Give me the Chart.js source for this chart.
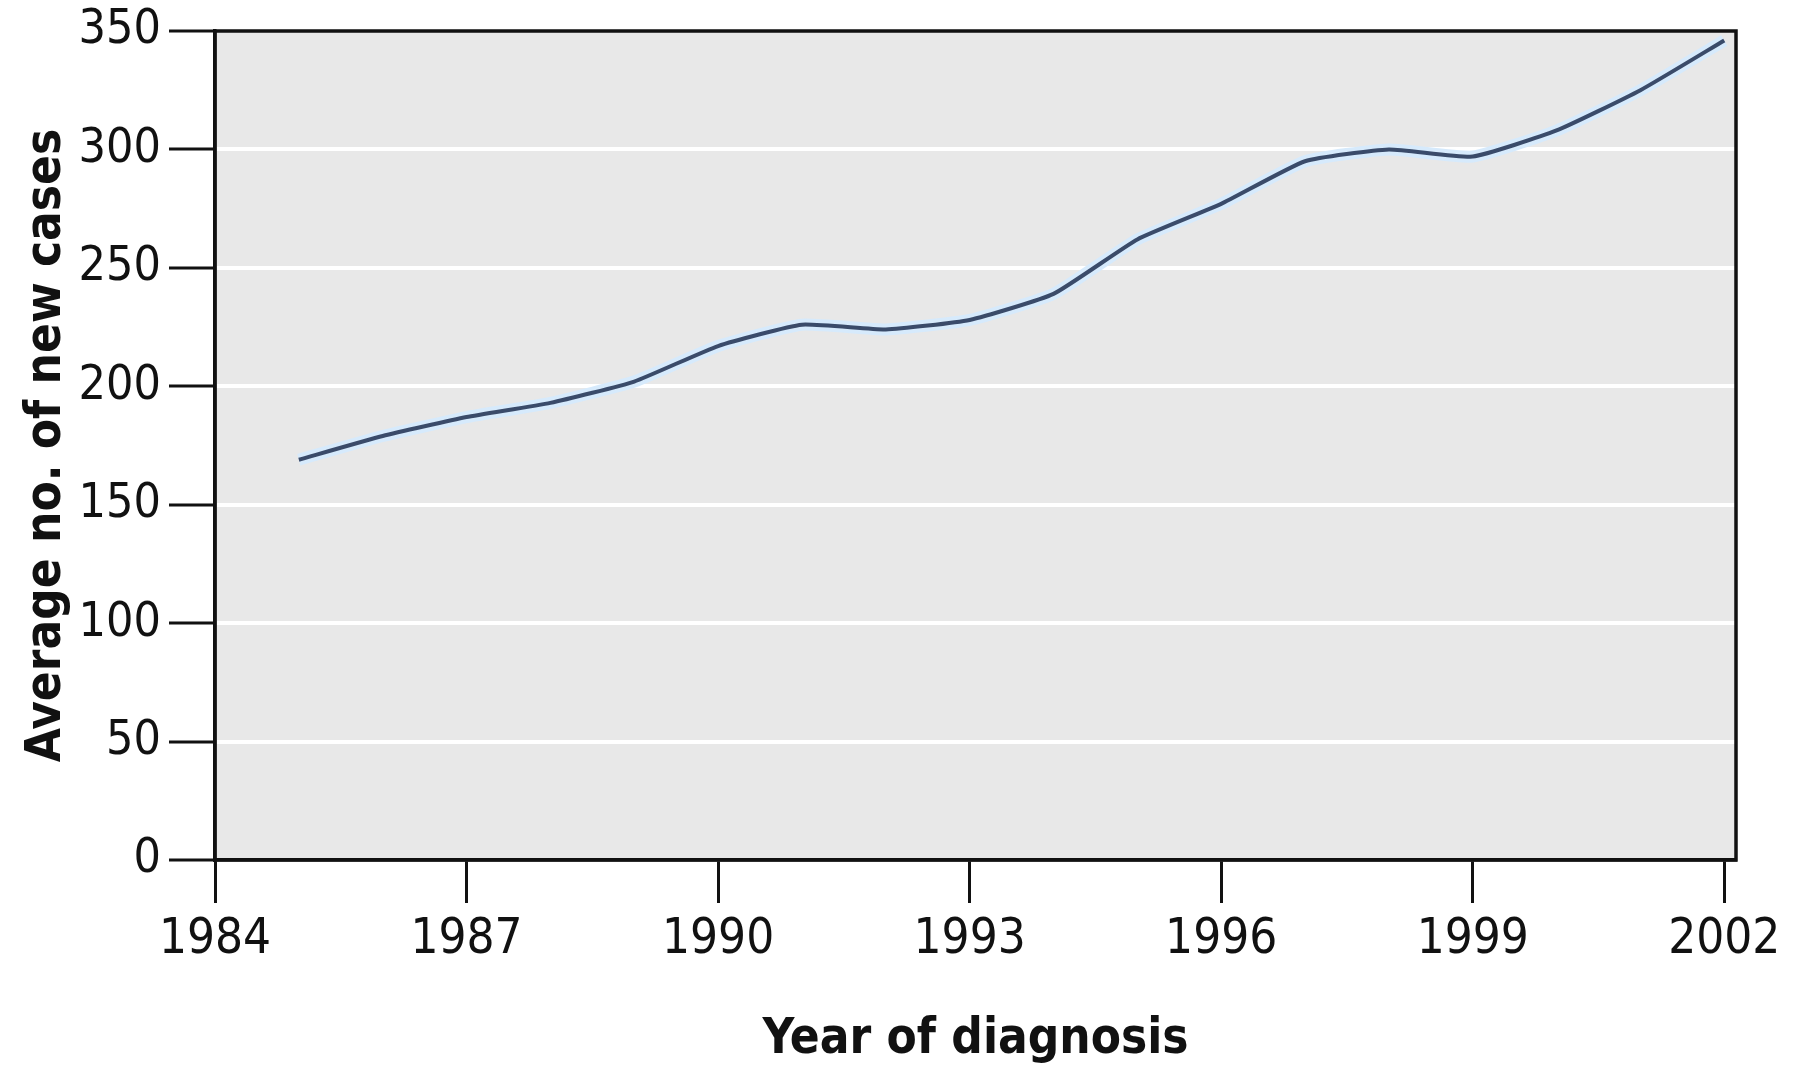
<!doctype html>
<html>
<head>
    <meta charset="utf-8">
    <title>Average no. of new cases</title>
    <script src="https://cdn.jsdelivr.net/npm/chart.js@4.4.1/dist/chart.umd.min.js"></script>
    <style>
    body { margin: 0; background: #fff; }
    </style>
</head>
<body>
    <canvas id="canvasCases" width="1793" height="1072"></canvas>
    <script>
        // values
        var years = [1985, 1986, 1987, 1988, 1989, 1990, 1991, 1992, 1993, 1994, 1995, 1996, 1997, 1998, 1999, 2000, 2001, 2002];
        var cases = [169, 179, 187, 193, 202, 217, 226, 224, 228, 239, 262, 277, 295, 300, 297, 308, 325, 346];
        var xTicks = [1984, 1987, 1990, 1993, 1996, 1999, 2002];
        var yTicks = [0, 50, 100, 150, 200, 250, 300, 350];

        var points = [];
        for (var i = 0; i < years.length; i++) {
            points.push({x: years[i], y: cases[i]});
        }

        var fontName = "'DejaVu Sans Condensed', 'DejaVu Sans', sans-serif";

        // grey plot area + black frame
        var plotFrame = {
            id: 'plotFrame',
            beforeDraw: function(chart) {
                var a = chart.chartArea, c = chart.ctx;
                c.save();
                c.fillStyle = '#e8e8e8';
                c.fillRect(a.left, a.top, a.right - a.left, a.bottom - a.top);
                c.restore();
            },
            afterDraw: function(chart) {
                var a = chart.chartArea, c = chart.ctx;
                c.save();
                c.strokeStyle = '#111';
                c.lineWidth = 3.5;
                c.strokeRect(a.left, a.top, a.right - a.left, a.bottom - a.top);
                c.restore();
            }
        };

        var ctx = document.getElementById('canvasCases').getContext('2d');
        window.myLine = new Chart(ctx, {
            type: 'line',
            data: {
                datasets: [
                    {
                        data: points,
                        borderColor: '#3a4b6a',
                        borderWidth: 4,
                        pointRadius: 0,
                        tension: 0.15,
                        fill: false
                    },
                    {
                        // pale halo under the line
                        data: points,
                        borderColor: 'rgba(214, 234, 252, 1)',
                        borderWidth: 12,
                        pointRadius: 0,
                        tension: 0.15,
                        fill: false
                    }
                ]
            },
            options: {
                responsive: false,
                animation: false,
                layout: { padding: { top: 31, right: 57, left: 0, bottom: 0 } },
                plugins: {
                    legend: { display: false },
                    tooltip: { enabled: false }
                },
                scales: {
                    x: {
                        type: 'linear',
                        min: 1984,
                        max: 2002.14,
                        afterBuildTicks: function(scale) {
                            scale.ticks = xTicks.map(function(v) { return {value: v}; });
                        },
                        afterFit: function(scale) {
                            scale.height = 212;
                            scale.paddingLeft = 0;
                            scale.paddingRight = 0;
                        },
                        grid: {
                            drawOnChartArea: false,
                            drawTicks: true,
                            tickLength: 43,
                            tickColor: '#111',
                            tickWidth: 3
                        },
                        border: { color: '#111', width: 3.5 },
                        ticks: {
                            color: '#111',
                            padding: 8,
                            maxRotation: 0,
                            font: { family: fontName, size: 49 },
                            callback: function(v) { return String(v); }
                        },
                        title: {
                            display: true,
                            text: 'Year of diagnosis',
                            color: '#111',
                            padding: { top: 0, bottom: 2 },
                            font: { family: fontName, size: 49, weight: 'bold' }
                        }
                    },
                    y: {
                        min: 0,
                        max: 350,
                        afterBuildTicks: function(scale) {
                            scale.ticks = yTicks.map(function(v) { return {value: v}; });
                        },
                        afterFit: function(scale) {
                            scale.width = 215;
                            scale.paddingTop = 0;
                            scale.paddingBottom = 0;
                        },
                        grid: {
                            color: function(c) {
                                return (c.tick && (c.tick.value === 0 || c.tick.value === 350)) ? 'rgba(0,0,0,0)' : '#ffffff';
                            },
                            lineWidth: 4,
                            drawTicks: true,
                            tickLength: 46,
                            tickColor: '#111',
                            tickWidth: 3
                        },
                        border: { color: '#111', width: 3.5 },
                        ticks: {
                            color: '#111',
                            padding: 8,
                            font: { family: fontName, size: 48 }
                        },
                        title: {
                            display: true,
                            text: 'Average no. of new cases',
                            color: '#111',
                            padding: { top: 18, bottom: 0 },
                            font: { family: fontName, size: 49, weight: 'bold' }
                        }
                    }
                }
            },
            plugins: [plotFrame]
        });
    </script>
</body>
</html>
